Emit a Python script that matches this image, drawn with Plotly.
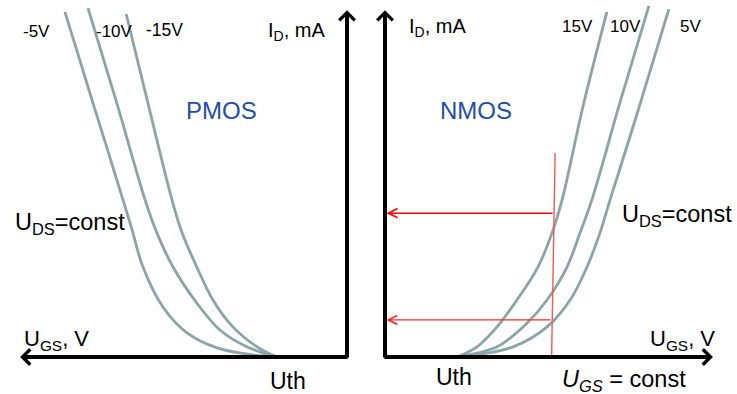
import plotly.graph_objects as go

# ---------------- data ----------------
# PMOS transfer curves: U_GS (V, negative) vs I_D (mA), one per U_DS
pmos_labels = ["-5V", "-10V", "-15V"]
pmos_ugs_5 = [-8.06, -7.23, -6.40, -6.14, -5.83, -5.26, -4.57, -3.71, -2.69, -2.00]
pmos_id_5 = [9.86, 7.17, 4.49, 3.63, 2.57, 1.43, 0.69, 0.26, 0.06, 0.0]
pmos_ugs_10 = [-7.40, -6.57, -5.77, -5.43, -4.97, -4.29, -3.63, -2.86, -2.00]
pmos_id_10 = [9.97, 7.23, 4.49, 3.54, 2.57, 1.54, 0.77, 0.29, 0.0]
pmos_ugs_15 = [-6.31, -5.66, -5.00, -4.71, -4.29, -3.83, -3.26, -2.57, -2.00]
pmos_id_15 = [9.80, 7.14, 4.49, 3.54, 2.57, 1.63, 0.86, 0.29, 0.0]

# NMOS transfer curves
nmos_labels = ["15V", "10V", "5V"]
nmos_ugs_15 = [6.34, 5.66, 5.06, 4.77, 4.37, 3.77, 3.20, 2.63, 2.06]
nmos_id_15 = [9.86, 7.17, 4.49, 3.54, 2.57, 1.63, 0.86, 0.29, 0.0]
nmos_ugs_10 = [7.54, 6.71, 5.91, 5.57, 5.20, 4.63, 4.06, 3.20, 2.06]
nmos_id_10 = [10.03, 7.26, 4.49, 3.54, 2.57, 1.63, 0.97, 0.29, 0.0]
nmos_ugs_5 = [8.11, 7.29, 6.43, 6.14, 5.77, 5.29, 4.63, 3.66, 2.06]
nmos_id_5 = [9.94, 7.23, 4.49, 3.54, 2.57, 1.63, 0.86, 0.29, 0.0]

# U_GS = const construction
ugs_const_line_x = [4.86, 4.76]
ugs_const_line_y = [5.83, -0.02]
id_read_upper = 4.11
id_read_lower = 1.06
ugs_read_upper = 4.83
ugs_read_lower = 4.77

# axis extents
pmos_ugs_tip = -9.34
nmos_ugs_tip = 9.37
id_tip = 9.91

# ---------------- figure ----------------
W, H = 737, 394
CURVE = "#8aa5a5"
BLUE = "#1e4ea6"
FONT = "Liberation Sans, Arial, sans-serif"

fig = go.Figure()

for xs, ys in [(pmos_ugs_5, pmos_id_5), (pmos_ugs_10, pmos_id_10), (pmos_ugs_15, pmos_id_15)]:
    fig.add_trace(go.Scatter(x=xs, y=ys, mode="lines", xaxis="x", yaxis="y",
                             line=dict(color=CURVE, width=2.8, shape="spline", smoothing=1.0),
                             hoverinfo="skip", showlegend=False))
for xs, ys in [(nmos_ugs_15, nmos_id_15), (nmos_ugs_10, nmos_id_10), (nmos_ugs_5, nmos_id_5)]:
    fig.add_trace(go.Scatter(x=xs, y=ys, mode="lines", xaxis="x2", yaxis="y2",
                             line=dict(color=CURVE, width=2.8, shape="spline", smoothing=1.0),
                             hoverinfo="skip", showlegend=False))

fig.add_trace(go.Scatter(x=ugs_const_line_x, y=ugs_const_line_y, mode="lines",
                         xaxis="x2", yaxis="y2", line=dict(color="#f05a5a", width=1.4),
                         hoverinfo="skip", showlegend=False))

ann = []

def arrow(xref, yref, x, y, ax, ay, color, width, head, size):
    ann.append(dict(xref=xref, yref=yref, axref=xref, ayref=yref, x=x, y=y, ax=ax, ay=ay,
                    text="", showarrow=True, arrowhead=head, arrowwidth=width,
                    arrowsize=size, arrowcolor=color, standoff=0, startstandoff=0))

# axes with arrows
ext = 0.06
arrow("x", "y", 0, id_tip, 0, -ext, "black", 4, 4, 0.75)
arrow("x", "y", pmos_ugs_tip, 0, ext, 0, "black", 4, 4, 0.75)
arrow("x2", "y2", 0, id_tip, 0, -ext, "black", 4, 4, 0.75)
arrow("x2", "y2", nmos_ugs_tip, 0, -ext, 0, "black", 4, 4, 0.75)

# red read-off arrows
arrow("x2", "y2", 0.04, id_read_upper, ugs_read_upper, id_read_upper, "#ff0000", 1.5, 5, 1.2)
arrow("x2", "y2", 0.04, id_read_lower, ugs_read_lower, id_read_lower, "#ff2a2a", 1.4, 5, 1.25)

def label(xref, yref, x, y, text, size, color="black", xanchor="left"):
    ann.append(dict(xref=xref, yref=yref, x=x, y=y, text=text, showarrow=False,
                    xanchor=xanchor, yanchor="middle",
                    font=dict(family=FONT, size=size, color=color)))

# PMOS labels
label("x", "y", -9.31, 9.3, pmos_labels[0], 17)
label("x", "y", -7.23, 9.3, pmos_labels[1], 17)
label("x", "y", -5.80, 9.35, pmos_labels[2], 17.5)
label("x", "y", -2.32, 9.3, "I<sub>D</sub>, mA", 20)
label("x", "y", -3.60, 7.03, "PMOS", 24, BLUE, "center")
label("x", "y", -9.55, 3.81, "U<sub>DS</sub>=const", 23.5)
label("x", "y", -9.3, 0.49, "U<sub>GS</sub>, V", 22)
label("x", "y", -1.69, -0.69, "Uth", 23, xanchor="center")

# NMOS labels
label("x2", "y2", 0.64, 9.41, "I<sub>D</sub>, mA", 20)
label("x2", "y2", 5.0, 9.45, nmos_labels[0], 17)
label("x2", "y2", 6.37, 9.45, nmos_labels[1], 17)
label("x2", "y2", 8.37, 9.45, nmos_labels[2], 17)
label("x2", "y2", 2.60, 7.03, "NMOS", 24, BLUE, "center")
label("x2", "y2", 9.96, 4.03, "U<sub>DS</sub>=const", 23.5, xanchor="right")
label("x2", "y2", 7.5, 0.49, "U<sub>GS</sub>, V", 22)
label("x2", "y2", 1.97, -0.57, "Uth", 23, xanchor="center")
label("x2", "y2", 5.0, -0.66, "<i>U<sub>GS</sub></i> = const", 23.5)

fig.update_layout(
    width=W, height=H, margin=dict(l=0, r=0, t=0, b=0),
    paper_bgcolor="white", plot_bgcolor="white",
    showlegend=False,
    xaxis=dict(domain=[0, 366 / W], range=[-347 / 35, 19 / 35], visible=False, fixedrange=True),
    yaxis=dict(domain=[0, 1], range=[-37 / 35, 357 / 35], visible=False, anchor="x", fixedrange=True),
    xaxis2=dict(domain=[366 / W, 1], range=[-19 / 35, 352 / 35], visible=False, anchor="y2", fixedrange=True),
    yaxis2=dict(domain=[0, 1], range=[-37 / 35, 357 / 35], visible=False, anchor="x2", fixedrange=True),
    annotations=ann,
)

fig.write_html("out.html", config={"displayModeBar": False})
